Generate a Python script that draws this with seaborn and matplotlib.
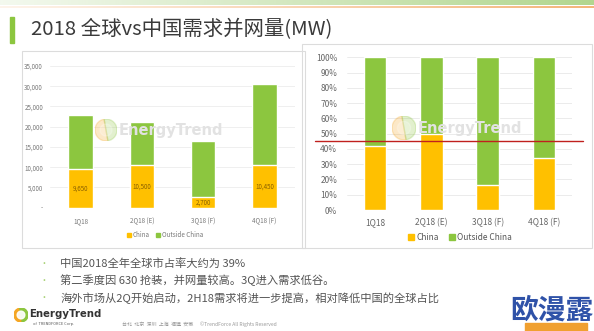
import numpy as np
import pandas as pd
import matplotlib
matplotlib.use("Agg")
import matplotlib.pyplot as plt
import seaborn as sns
from matplotlib.patches import Rectangle, Wedge

# ---- data ----
quarters = ["1Q18", "2Q18 (E)", "3Q18 (F)", "4Q18 (F)"]
china_mw = [9650, 10500, 2700, 10450]
outside_mw = [13250, 10600, 13800, 20050]
china_labels = ["9,650", "10,500", "2,700", "10,450"]
mw_ticks = [0, 5000, 10000, 15000, 20000, 25000, 30000, 35000]
mw_tick_labels = ["-", "5,000", "10,000", "15,000", "20,000", "25,000", "30,000", "35,000"]
pct_ticks = [0, 0.1, 0.2, 0.3, 0.4, 0.5, 0.6, 0.7, 0.8, 0.9, 1.0]
pct_tick_labels = ["0%", "10%", "20%", "30%", "40%", "50%", "60%", "70%", "80%", "90%", "100%"]
reference_share = 0.454
title = "2018 全球vs中国需求并网量(MW)"
bullets = [
    "中国2018全年全球市占率大约为 39%",
    "第二季度因 630 抢装，并网量较高。3Q进入需求低谷。",
    "海外市场从2Q开始启动，2H18需求将进一步提高，相对降低中国的全球占比",
]
footer = "台北  北京  深圳  上海  福建  安徽      ©TrendForce All Rights Reserved"

YELLOW = "#FFC000"
GREEN = "#8CC63F"
RED = "#C0201E"

sns.set_theme(style="white")
plt.rcParams["font.family"] = ["Noto Sans CJK SC", "DejaVu Sans"]

W, H = 594, 331
fig = plt.figure(figsize=(W / 100, H / 100), dpi=100)
fig.patch.set_facecolor("white")


def fx(x):
    return x / W


def fy(y):
    return 1 - y / H


def px_axes(x0, y0, x1, y1, **kw):
    return fig.add_axes([fx(x0), fy(y1), fx(x1 - x0), (y1 - y0) / H], **kw)


# ---- header band ----
band = px_axes(0, 0, W, 10)
grad = np.zeros((10, 200, 4))
ramp = np.linspace(0.15, 1.0, 200)
grad[0:5, :, :3] = np.array([0.62, 0.80, 0.45])
grad[0:5, :, 3] = ramp * 0.8
grad[6:8, :, :3] = np.array([0.96, 0.68, 0.42])
grad[6:8, :, 3] = ramp * 0.9
band.imshow(grad, aspect="auto", interpolation="bilinear")
band.axis("off")

fig.patches.append(Rectangle((fx(10), fy(43)), fx(4), 26 / H, transform=fig.transFigure,
                             color=GREEN, zorder=2))
fig.text(fx(31), fy(30), title, fontsize=14.7, color="#3a3a3a", va="center", ha="left")

# ---- panel frames ----
for (x0, y0, x1, y1) in [(22, 51, 305, 248), (302, 44, 592, 248)]:
    fig.patches.append(Rectangle((fx(x0), fy(y1)), fx(x1 - x0), (y1 - y0) / H,
                                 transform=fig.transFigure, fill=False,
                                 edgecolor="#dcdcdc", linewidth=0.8))

df = pd.DataFrame({"quarter": quarters, "china": china_mw, "outside": outside_mw})
df["total"] = df["china"] + df["outside"]
df["china_share"] = df["china"] / df["total"]
df["full"] = 1.0


def logo(cx, cy, r, alpha=1.0, zorder=3):
    lax = px_axes(cx - r, cy - r, cx + r, cy + r, zorder=zorder)
    lax.set_xlim(-1, 1)
    lax.set_ylim(-1, 1)
    lax.axis("off")
    lax.patch.set_alpha(0)
    lax.add_patch(Wedge((0, 0), 1, 100, 280, color="#F5A623", alpha=alpha))
    lax.add_patch(Wedge((0, 0), 1, 280, 460, color="#8CC63F", alpha=alpha))
    lax.add_patch(Wedge((0, 0), 0.55, 0, 360, color="white", alpha=alpha * 0.9))


def watermark(x, y):
    fig.text(fx(x), fy(y), "EnergyTrend", fontsize=10.5, color="#e2e2e2",
             ha="left", va="center", fontweight="semibold", family=["DejaVu Sans"],
             zorder=5)


# ---- left: absolute MW ----
ax1 = px_axes(50, 66, 295, 207.7)
sns.barplot(data=df, x="quarter", y="total", color=GREEN, width=0.4, saturation=1,
            ax=ax1, zorder=2)
sns.barplot(data=df, x="quarter", y="china", color=YELLOW, width=0.4, saturation=1,
            ax=ax1, zorder=3)
ax1.set_ylim(0, 35000)
ax1.set_xlim(-0.5, 3.5)
ax1.set_yticks(mw_ticks, mw_tick_labels)
ax1.tick_params(axis="y", labelsize=4.5, labelcolor="#777777", length=0, pad=5)
ax1.tick_params(axis="x", labelsize=4.5, labelcolor="#777777", length=0, pad=7)
ax1.set_xlabel("")
ax1.set_ylabel("")
ax1.grid(axis="y", color="#ececec", linewidth=0.6, zorder=0)
ax1.set_axisbelow(True)
for s in ax1.spines.values():
    s.set_visible(False)
for i, (v, lab) in enumerate(zip(china_mw, china_labels)):
    ax1.text(i, v / 2, lab, ha="center", va="center", fontsize=4.5, color="#8a6000", zorder=4)
h1 = [Rectangle((0, 0), 1, 1, color=YELLOW), Rectangle((0, 0), 1, 1, color=GREEN)]
fig.legend(h1, ["China", "Outside China"], loc="center", bbox_to_anchor=(fx(165), fy(235)),
           ncol=2, frameon=False, fontsize=4.5, handlelength=0.7, handleheight=0.7,
           handletextpad=0.3, columnspacing=1.0, labelcolor="#777777")
logo(106, 130, 11, alpha=0.25)
watermark(119, 130)

# ---- right: share ----
ax2 = px_axes(347, 57.3, 572, 210)
sns.barplot(data=df, x="quarter", y="full", color=GREEN, width=0.4, saturation=1,
            ax=ax2, zorder=2)
sns.barplot(data=df, x="quarter", y="china_share", color=YELLOW, width=0.4, saturation=1,
            ax=ax2, zorder=3)
ax2.set_ylim(0, 1)
ax2.set_xlim(-0.5, 3.5)
ax2.set_yticks(pct_ticks, pct_tick_labels)
ax2.tick_params(axis="y", labelsize=6, labelcolor="#666666", length=0, pad=7)
ax2.tick_params(axis="x", labelsize=6, labelcolor="#666666", length=0, pad=6)
ax2.set_xlabel("")
ax2.set_ylabel("")
ax2.grid(axis="y", color="#e8e8e8", linewidth=0.6, zorder=0)
ax2.set_axisbelow(True)
for s in ax2.spines.values():
    s.set_visible(False)
ax2.axhline(reference_share, xmin=-0.142, xmax=1.049, color=RED, linewidth=1.0,
            clip_on=False, zorder=6)
fig.legend(h1, ["China", "Outside China"], loc="center", bbox_to_anchor=(fx(460), fy(237)),
           ncol=2, frameon=False, fontsize=6, handlelength=0.7, handleheight=0.7,
           handletextpad=0.3, columnspacing=1.2, labelcolor="#555555")
logo(404, 128, 12, alpha=0.25)
watermark(418, 128)

# ---- bullet notes ----
for k, line in enumerate(bullets):
    yy = 263 + k * 17.5
    fig.text(fx(44), fy(yy), "•", fontsize=6.5, color="#a5d070", ha="center", va="center")
    fig.text(fx(60), fy(yy), line, fontsize=8.1, color="#555555", ha="left", va="center")

# ---- footer ----
logo(21, 315, 7)
fig.text(fx(29), fy(314), "EnergyTrend", fontsize=7.3, fontweight="bold", color="#333333",
         family=["DejaVu Sans"], ha="left", va="center")
fig.text(fx(33), fy(324), "of  TRENDFORCE Corp.", fontsize=2.8, color="#555555",
         ha="left", va="center")
fig.text(fx(122), fy(324), footer, fontsize=3.6, color="#999999", ha="left", va="center")

# ---- corner badge ----
fig.patches.append(Rectangle((fx(525), fy(331)), fx(62), 8 / H, transform=fig.transFigure,
                             color="#F0A030", zorder=3))
fig.text(fx(552), fy(311), "欧漫露", fontsize=20, fontweight="bold", color="#2F52A8",
         ha="center", va="center", zorder=4)

fig.savefig("out.png", dpi=100, facecolor="white")
